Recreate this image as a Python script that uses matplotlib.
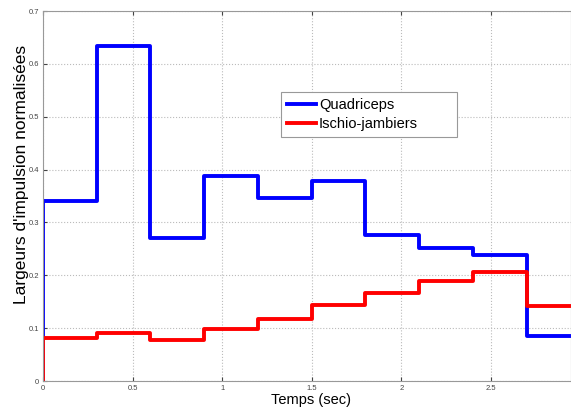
import matplotlib
matplotlib.use('Agg')
import matplotlib.pyplot as plt

plt.rcParams['font.family'] = ['Liberation Sans', 'DejaVu Sans']

# Step edges (sec) and values for each muscle group
t_edges = [0, 0.3, 0.6, 0.9, 1.2, 1.5, 1.8, 2.1, 2.4, 2.7]
t_end = 3.0
quadriceps = [0.341, 0.633, 0.271, 0.387, 0.347, 0.378, 0.277, 0.252, 0.238, 0.086]
ischio = [0.082, 0.091, 0.077, 0.098, 0.117, 0.143, 0.166, 0.190, 0.207, 0.142]

x_ticks = [0, 0.5, 1, 1.5, 2, 2.5]
x_tick_labels = ['0', '0.5', '1', '1.5', '2', '2.5']
y_ticks = [0, 0.1, 0.2, 0.3, 0.4, 0.5, 0.6, 0.7]
y_tick_labels = ['0', '0.1', '0.2', '0.3', '0.4', '0.5', '0.6', '0.7']

# start both curves from zero at t=0
x = [0] + t_edges + [t_end]
yq = [0] + quadriceps + [quadriceps[-1]]
yi = [0] + ischio + [ischio[-1]]

fig = plt.figure(figsize=(5.71, 4.08), dpi=100)
# axes runs off the right edge of the picture (cropped figure)
ax = fig.add_axes([43 / 571, 1 - 381 / 408, 1 - 43 / 571, 370 / 408])

ax.step(x, yq, where='post', color='#0000ff', lw=2.8, label='Quadriceps')
ax.step(x, yi, where='post', color='#ff0000', lw=2.8, label='Ischio-jambiers')

ax.set_xlim(0, 2.948)
ax.set_ylim(0, 0.7)
ax.set_xticks(x_ticks)
ax.set_xticklabels(x_tick_labels)
ax.set_yticks(y_ticks)
ax.set_yticklabels(y_tick_labels)
ax.tick_params(direction='in', length=3, labelsize=5.5, colors='#444444',
               top=True, right=False, pad=3)

ax.grid(True, linestyle=':', color='#bbbbbb', lw=0.8)
for s in ax.spines.values():
    s.set_color('#999999')
    s.set_linewidth(0.8)

ax.set_xlabel('Temps (sec)', fontsize=10.5, va='top')
ax.xaxis.set_label_coords(0.5076, -0.033)
ax.set_ylabel("Largeurs d'impulsion normalisées", fontsize=12.5, va='center')
ax.yaxis.set_label_coords(-0.041, 0.557)

leg = ax.legend(loc='upper left', bbox_to_anchor=(0.4508, 0.581, 0.3333, 0.2),
                mode='expand', borderaxespad=0, fontsize=10.5,
                fancybox=False, framealpha=1, edgecolor='#999999',
                handlelength=2.0, handletextpad=0.2, borderpad=0.4,
                labelspacing=0.38)
leg.get_frame().set_linewidth(0.8)

fig.savefig('out.png', dpi=100)
